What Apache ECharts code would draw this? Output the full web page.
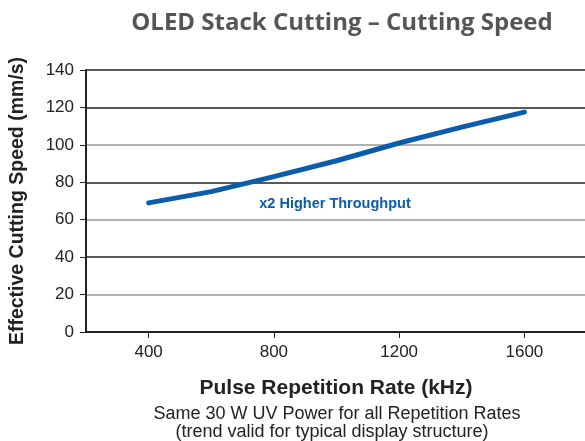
<!DOCTYPE html>
<html>
<head>
<meta charset="utf-8">
<script src="https://cdn.jsdelivr.net/npm/echarts@6/dist/echarts.min.js"></script>
<style>
  html, body { margin: 0; padding: 0; background: #fff; }
  #chart { width: 585px; height: 441px; }
</style>
</head>
<body>
<div id="chart"></div>
<script>
// data
var rates = [400, 600, 800, 1000, 1200, 1400, 1600];
var speeds = [69, 75, 83, 91.5, 101, 109.5, 117.5];
var xTicks = [400, 800, 1200, 1600];
var gridColors = ['#222', '#999', '#222', '#999', '#222', '#999', '#222', '#222'];

var myChart = echarts.init(document.getElementById('chart'));

var font = '"Liberation Sans", Arial, sans-serif';

var option = {
    animation: false,
    title: {
        text: 'OLED Stack Cutting – Cutting Speed',
        left: 337,
        top: 6,
        textAlign: 'center',
        textStyle: {
            fontFamily: '"Open Sans", sans-serif',
            fontWeight: 'bold',
            fontSize: 24,
            color: '#555'
        }
    },
    grid: {
        left: 86,
        right: -2,
        top: 70,
        bottom: 109,
        outerBoundsMode: 'none'
    },
    xAxis: {
        type: 'value',
        min: 200,
        max: 1800,
        axisLine: { lineStyle: { color: '#222', width: 2 } },
        axisTick: {
            customValues: xTicks,
            length: 6,
            lineStyle: { color: '#222', width: 1 }
        },
        axisLabel: {
            customValues: xTicks,
            margin: 12,
            fontFamily: font,
            fontSize: 17,
            color: '#222',
            formatter: function (v) { return String(v); }
        },
        splitLine: { show: false }
    },
    yAxis: {
        type: 'value',
        min: 0,
        max: 140,
        interval: 20,
        name: 'Effective Cutting Speed (mm/s)',
        nameLocation: 'middle',
        nameGap: 58,
        nameTextStyle: {
            fontFamily: font,
            fontWeight: 'bold',
            fontSize: 19.5,
            color: '#222'
        },
        axisLine: { show: true, lineStyle: { color: '#222', width: 2 } },
        axisTick: { show: true, length: 6, lineStyle: { color: '#222' } },
        axisLabel: {
            margin: 12,
            fontFamily: font,
            fontSize: 17,
            color: '#222'
        },
        splitLine: {
            show: true,
            lineStyle: { color: gridColors, width: 1.5 }
        }
    },
    series: [{
        type: 'line',
        data: rates.map(function (r, i) { return [r, speeds[i]]; }),
        showSymbol: false,
        lineStyle: { color: '#0b5dab', width: 5, cap: 'round', join: 'round' }
    }],
    graphic: [
        {
            type: 'text',
            x: 335,
            y: 204,
            style: {
                text: 'x2 Higher Throughput',
                font: 'bold 14.5px "Liberation Sans", Arial, sans-serif',
                fill: '#0b5dab',
                align: 'center',
                verticalAlign: 'middle'
            }
        },
        {
            type: 'text',
            x: 336,
            y: 388,
            style: {
                text: 'Pulse Repetition Rate (kHz)',
                font: 'bold 21px "Liberation Sans", Arial, sans-serif',
                fill: '#222',
                align: 'center',
                verticalAlign: 'middle'
            }
        },
        {
            type: 'text',
            x: 337,
            y: 414,
            style: {
                text: 'Same 30 W UV Power for all Repetition Rates',
                font: '18px "Liberation Sans", Arial, sans-serif',
                fill: '#222',
                align: 'center',
                verticalAlign: 'middle'
            }
        },
        {
            type: 'text',
            x: 332,
            y: 432,
            style: {
                text: '(trend valid for typical display structure)',
                font: '18px "Liberation Sans", Arial, sans-serif',
                fill: '#222',
                align: 'center',
                verticalAlign: 'middle'
            }
        }
    ]
};

myChart.setOption(option);
</script>
</body>
</html>
